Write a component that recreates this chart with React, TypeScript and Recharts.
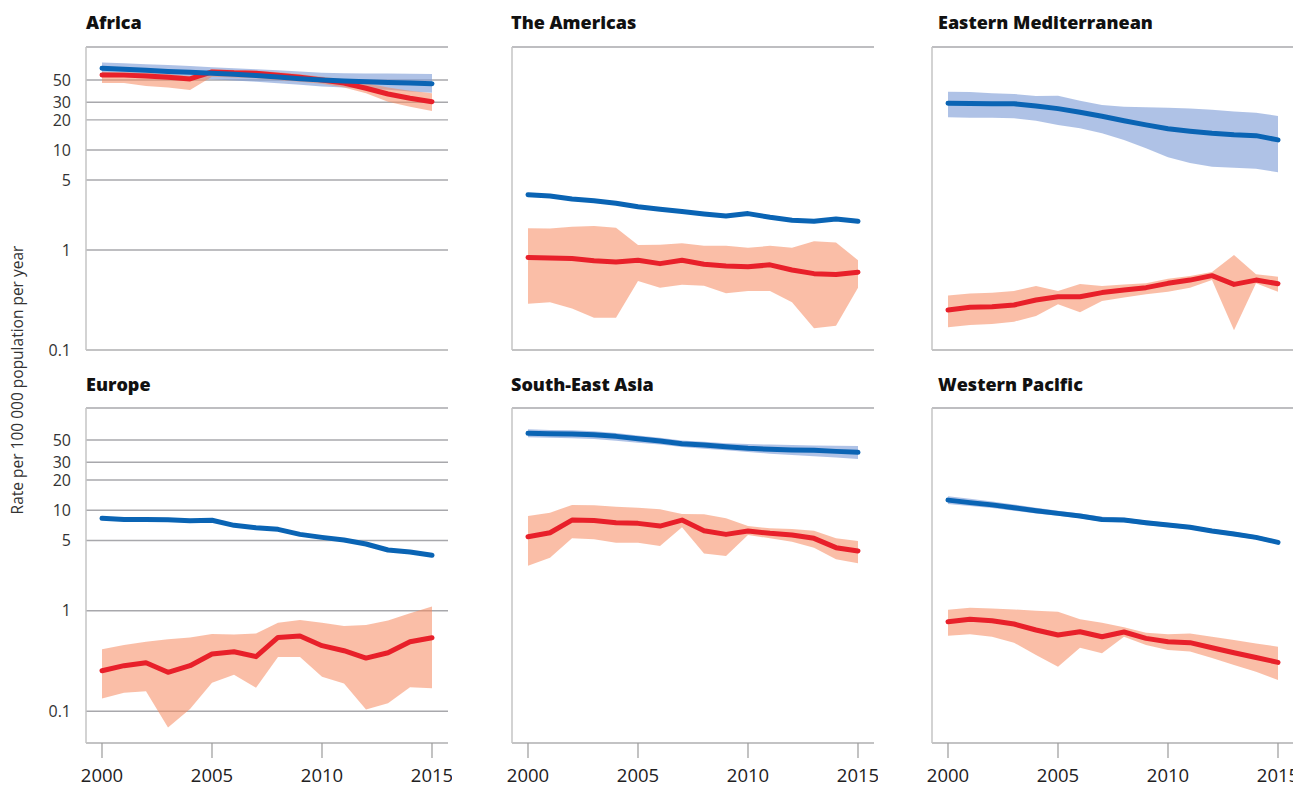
import { Area, CartesianGrid, ComposedChart, Line, XAxis, YAxis } from "recharts";

const years = [2000, 2001, 2002, 2003, 2004, 2005, 2006, 2007, 2008, 2009, 2010, 2011, 2012, 2013, 2014, 2015];
const yearTicks = [2000, 2005, 2010, 2015];
const rateTicks = [0.1, 1, 5, 10, 20, 30, 50];

// Africa
const africaBlue = [65.6, 64, 62.5, 61, 60, 58.5, 57, 55.5, 53.5, 51.5, 50, 49, 48, 47.3, 46.8, 46];
const africaBlueLo = [56, 55, 54, 53, 52, 51, 49.5, 48, 46.5, 45, 43, 42, 41, 40, 38.5, 37.4];
const africaBlueHi = [74.7, 73.5, 72, 70.5, 69, 67, 65.5, 64, 62.5, 61, 59, 58.5, 58, 58, 57.7, 57.5];
const africaRed = [56.2, 56, 55, 53.3, 51.3, 60.3, 59, 58.5, 56, 53.3, 50, 46.6, 41.4, 36.3, 32.9, 30.4];
const africaRedLo = [46.6, 46.6, 43.6, 42, 39.8, 54, 53, 52, 50, 48, 46, 42, 37, 30.4, 27, 24.5];
const africaRedHi = [60.7, 60, 59, 57.5, 55, 64, 63, 62, 60, 57, 54, 51, 46.6, 42, 39, 36.9];

// The Americas
const americasBlue = [3.57, 3.47, 3.24, 3.11, 2.93, 2.71, 2.55, 2.42, 2.29, 2.19, 2.31, 2.12, 1.98, 1.94, 2.04, 1.94];
const americasRed = [0.84, 0.83, 0.82, 0.78, 0.76, 0.79, 0.73, 0.79, 0.72, 0.69, 0.68, 0.71, 0.63, 0.58, 0.57, 0.6];
const americasRedLo = [0.29, 0.3, 0.26, 0.21, 0.21, 0.49, 0.42, 0.45, 0.44, 0.37, 0.39, 0.39, 0.3, 0.165, 0.175, 0.42];
const americasRedHi = [1.65, 1.64, 1.71, 1.74, 1.67, 1.12, 1.13, 1.17, 1.1, 1.1, 1.05, 1.1, 1.05, 1.22, 1.19, 0.79];

// Eastern Mediterranean
const emedBlue = [29.3, 29.2, 29, 29, 27.5, 25.9, 23.8, 21.7, 19.6, 17.8, 16.3, 15.4, 14.7, 14.2, 13.9, 12.6];
const emedBlueLo = [21.2, 21, 21, 20.7, 19.6, 17.8, 16.5, 14.7, 12.6, 10.4, 8.45, 7.4, 6.8, 6.65, 6.5, 6];
const emedBlueHi = [38.3, 38, 37, 36.3, 34.7, 34.9, 31.1, 28.2, 27.1, 26.7, 26.5, 26, 25.3, 24.2, 23.5, 21.9];
const emedRed = [0.251, 0.267, 0.271, 0.282, 0.316, 0.341, 0.341, 0.375, 0.398, 0.42, 0.464, 0.5, 0.554, 0.453, 0.5, 0.46];
const emedRedLo = [0.169, 0.178, 0.182, 0.192, 0.219, 0.286, 0.238, 0.309, 0.334, 0.36, 0.383, 0.42, 0.5, 0.158, 0.464, 0.383];
const emedRedHi = [0.35, 0.368, 0.374, 0.389, 0.437, 0.389, 0.457, 0.437, 0.453, 0.464, 0.517, 0.549, 0.603, 0.891, 0.571, 0.541];

// Europe
const europeBlue = [8.3, 8.1, 8.1, 8.05, 7.87, 7.95, 7.07, 6.7, 6.45, 5.75, 5.37, 5.05, 4.61, 4.02, 3.84, 3.56];
const europeRed = [0.253, 0.284, 0.304, 0.244, 0.284, 0.371, 0.391, 0.349, 0.543, 0.56, 0.449, 0.4, 0.338, 0.382, 0.492, 0.539];
const europeRedLo = [0.134, 0.153, 0.158, 0.069, 0.105, 0.192, 0.231, 0.171, 0.346, 0.346, 0.22, 0.189, 0.104, 0.12, 0.173, 0.169];
const europeRedHi = [0.413, 0.456, 0.492, 0.519, 0.543, 0.587, 0.58, 0.595, 0.76, 0.808, 0.76, 0.705, 0.72, 0.8, 0.942, 1.1];

// South-East Asia
const seaBlue = [58.2, 57.7, 57.3, 56.4, 54.3, 51.4, 48.8, 45.9, 44.6, 42.9, 41.3, 40.4, 39.7, 39.4, 38.5, 37.7];
const seaBlueLo = [53.1, 52.5, 52, 51, 49, 47, 45, 42.5, 41, 39.5, 38, 36.5, 35.5, 34.5, 33.5, 32.3];
const seaBlueHi = [63.8, 63, 62.3, 61, 58.5, 55.5, 52.5, 49.5, 48, 46.5, 45.5, 45, 44.5, 44, 43.8, 43.5];
const seaRed = [5.45, 5.97, 7.98, 7.9, 7.5, 7.4, 6.96, 7.98, 6.25, 5.75, 6.21, 5.89, 5.67, 5.25, 4.24, 3.93];
const seaRedLo = [2.8, 3.37, 5.25, 5.15, 4.75, 4.75, 4.4, 6.76, 3.72, 3.5, 5.67, 5.25, 4.86, 4.24, 3.25, 2.96];
const seaRedHi = [8.75, 9.44, 11.3, 11.2, 10.8, 10.6, 10.2, 9.17, 9.1, 8.3, 6.96, 6.6, 6.5, 6.25, 5.25, 4.94];

// Western Pacific
const wpacBlue = [12.6, 11.9, 11.3, 10.6, 9.9, 9.3, 8.75, 8.1, 7.98, 7.5, 7.12, 6.76, 6.21, 5.8, 5.37, 4.79];
const wpacBlueLo = [11.5, 11, 10.5, 9.9, 9.3, 8.8, 8.3, 7.7, 7.6, 7.1, 6.8, 6.45, 5.95, 5.5, 5.1, 4.6];
const wpacBlueHi = [13.8, 13, 12.2, 11.4, 10.6, 9.9, 9.3, 8.6, 8.4, 7.9, 7.5, 7.1, 6.5, 6.1, 5.65, 5.0];
const wpacRed = [0.778, 0.821, 0.795, 0.738, 0.643, 0.573, 0.618, 0.551, 0.614, 0.531, 0.492, 0.481, 0.428, 0.382, 0.343, 0.306];
const wpacRedLo = [0.564, 0.582, 0.551, 0.481, 0.362, 0.277, 0.428, 0.377, 0.551, 0.456, 0.406, 0.392, 0.338, 0.288, 0.247, 0.204];
const wpacRedHi = [1.02, 1.07, 1.05, 1.03, 1.0, 0.977, 0.821, 0.76, 0.684, 0.604, 0.582, 0.594, 0.551, 0.511, 0.473, 0.438];

const BLUE = "#0a64b4";
const RED = "#e8202a";
const BLUE_BAND = "#7a9ad6";
const RED_BAND = "#f5895f";
const GRID = "#a8a8ac";
const FRAME = "#c4c4c4";
const FONT = "'Open Sans', Lato, sans-serif";

const COL_X = [86, 512, 932];
const TITLE_X = [86, 511, 938];
const PLOT_W = 362;
const Y_W = 80;
const ROWS = [
  { top: 47, h: 303, domain: [0.1, 107], titleY: 29, showX: false },
  { top: 408, h: 335, domain: [0.0483, 104], titleY: 391, showX: true },
];

const panels = [
  { title: "Africa", row: 0, col: 0, blue: africaBlue, blueLo: africaBlueLo, blueHi: africaBlueHi, red: africaRed, redLo: africaRedLo, redHi: africaRedHi },
  { title: "The Americas", row: 0, col: 1, blue: americasBlue, red: americasRed, redLo: americasRedLo, redHi: americasRedHi },
  { title: "Eastern Mediterranean", row: 0, col: 2, blue: emedBlue, blueLo: emedBlueLo, blueHi: emedBlueHi, red: emedRed, redLo: emedRedLo, redHi: emedRedHi },
  { title: "Europe", row: 1, col: 0, blue: europeBlue, red: europeRed, redLo: europeRedLo, redHi: europeRedHi },
  { title: "South-East Asia", row: 1, col: 1, blue: seaBlue, blueLo: seaBlueLo, blueHi: seaBlueHi, red: seaRed, redLo: seaRedLo, redHi: seaRedHi },
  { title: "Western Pacific", row: 1, col: 2, blue: wpacBlue, blueLo: wpacBlueLo, blueHi: wpacBlueHi, red: wpacRed, redLo: wpacRedLo, redHi: wpacRedHi },
];

type PanelDef = (typeof panels)[number] & { blueLo?: number[]; blueHi?: number[] };

function Panel({ p }: { p: PanelDef }) {
  const r = ROWS[p.row];
  const showY = p.col === 0;
  const data = years.map((year, i) => ({
    year,
    blue: p.blue[i],
    red: p.red[i],
    blueBand: p.blueLo && p.blueHi ? [p.blueLo[i], p.blueHi[i]] : null,
    redBand: [p.redLo[i], p.redHi[i]],
  }));
  // row 1 has no x labels but needs room for the "0.1" label
  const xH = r.showX ? 44 : 12;
  return (
    <div style={{ position: "absolute", left: COL_X[p.col] - Y_W, top: r.top - 2 }}>
      <ComposedChart
        width={Y_W + PLOT_W + 4}
        height={2 + r.h + xH}
        data={data}
        margin={{ top: 2, right: 4, bottom: 0, left: 0 }}
      >
        <CartesianGrid vertical={false} stroke={GRID} strokeWidth={1.4} />
        <XAxis
          dataKey="year"
          type="number"
          domain={[2000, 2015]}
          ticks={yearTicks}
          interval={0}
          padding={{ left: 16, right: 16 }}
          height={xH}
          axisLine={{ stroke: FRAME, strokeWidth: 1.5 }}
          tick={r.showX ? { fill: "#222", fontSize: 18.5, fontFamily: FONT } : false}
          tickLine={r.showX ? { stroke: "#9a9a9a", strokeWidth: 1.2 } : false}
          tickSize={15}
          tickMargin={11}
        />
        <XAxis
          xAxisId="top"
          orientation="top"
          height={0}
          tick={false}
          tickLine={false}
          axisLine={{ stroke: FRAME, strokeWidth: 1.5 }}
        />
        <YAxis
          scale="log"
          type="number"
          domain={r.domain}
          allowDataOverflow
          ticks={rateTicks}
          interval={0}
          width={Y_W}
          axisLine={{ stroke: FRAME, strokeWidth: 1.5 }}
          tickLine={false}
          tickSize={0}
          tickMargin={15}
          tick={showY ? { fill: "#333", fontSize: 16, fontFamily: FONT } : false}
        />
        <YAxis
          yAxisId="right"
          orientation="right"
          width={0}
          tick={false}
          tickLine={false}
          axisLine={{ stroke: FRAME, strokeWidth: 1.5 }}
        />
        {p.blueLo && (
          <Area
            dataKey="blueBand"
            type="linear"
            stroke="none"
            fill={BLUE_BAND}
            fillOpacity={0.6}
            isAnimationActive={false}
            activeDot={false}
          />
        )}
        <Area
          dataKey="redBand"
          type="linear"
          stroke="none"
          fill={RED_BAND}
          fillOpacity={0.55}
          isAnimationActive={false}
          activeDot={false}
        />
        <Line
          dataKey="red"
          type="linear"
          stroke={RED}
          strokeWidth={5}
          strokeLinecap="round"
          strokeLinejoin="round"
          dot={false}
          activeDot={false}
          isAnimationActive={false}
        />
        <Line
          dataKey="blue"
          type="linear"
          stroke={BLUE}
          strokeWidth={5}
          strokeLinecap="round"
          strokeLinejoin="round"
          dot={false}
          activeDot={false}
          isAnimationActive={false}
        />
      </ComposedChart>
    </div>
  );
}

export default function App() {
  return (
    <div style={{ position: "absolute", left: 0, top: 0, width: 1293, height: 787, background: "#fff", overflow: "hidden" }}>
      {panels.map((p) => (
        <Panel key={p.title} p={p} />
      ))}
      <svg width={1293} height={787} style={{ position: "absolute", left: 0, top: 0, pointerEvents: "none" }}>
        {panels.map((p) => (
          <text
            key={p.title}
            x={TITLE_X[p.col]}
            y={ROWS[p.row].titleY}
            fontFamily={FONT}
            fontWeight={800}
            fontSize={18}
            fill="#111"
          >
            {p.title}
          </text>
        ))}
        <text
          x={0}
          y={0}
          transform="translate(23 380) rotate(-90)"
          textAnchor="middle"
          fontFamily={FONT}
          fontSize={15.5}
          fill="#333"
        >
          Rate per 100 000 population per year
        </text>
      </svg>
    </div>
  );
}
